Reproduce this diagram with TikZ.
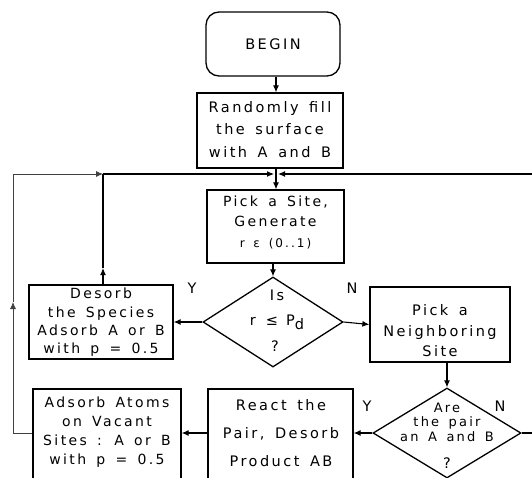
\documentclass[tikz,border=0pt]{standalone}
\usepackage{fontspec}
\setmainfont{DejaVu Sans}[LetterSpace=17,WordSpace=1.5]
\usetikzlibrary{shapes.geometric,arrows.meta}
\begin{document}
\begin{tikzpicture}[x=1pt,y=-1pt,
  box/.style={draw, line width=1.3pt, inner sep=0pt},
  dia/.style={draw, diamond, line width=1.3pt, inner sep=0pt},
  txt/.style={inner sep=0pt, align=center},
  conn/.style={line width=1.1pt},
  thinconn/.style={line width=0.8pt, black!75},
  arr/.style={conn, -{Latex[length=7pt,width=6pt]}},
  thinarr/.style={thinconn, -{Latex[length=7pt,width=6pt]}},
  font=\fontsize{14.5}{17}\selectfont]
\useasboundingbox (0,0) rectangle (532,477);
\clip (0,0) rectangle (532,477);

% boxes
\node[box, rounded corners=13pt, minimum width=134pt, minimum height=64pt] (begin) at (273,44) {BEGIN};
\node[box, minimum width=146pt, minimum height=75pt] (fill) at (270,130.5) {};
\node[box, minimum width=137pt, minimum height=73pt] (pick) at (275.5,226.5) {};
\node[dia, minimum width=140pt, minimum height=90pt] (d1) at (273,322) {};
\node[box, minimum width=144pt, minimum height=74pt] (desorb) at (101,322) {};
\node[box, minimum width=140pt, minimum height=75pt] (neigh) at (440,324.5) {};
\node[dia, minimum width=148pt, minimum height=90pt] (d2) at (447,433) {};
\node[box, minimum width=145pt, minimum height=111pt] (react) at (280.5,444.5) {};
\node[box, minimum width=148pt, minimum height=111pt] (adsorb) at (107,444.5) {};

% texts
\node[txt, font=\fontsize{14.5}{22.5}\selectfont] (filltxt) at (270,129.5) {Randomly fill\\the surface\\with A and B};
\node[txt, font=\fontsize{14}{20.5}\selectfont] (picktxt) at (275.5,222) {Pick a Site,\\Generate\\{\fontsize{12}{20.5}\selectfont r ε (0..1)}};
\node[txt] (d1is) at (277,295) {Is};
\node[txt] (d1r) at (277,322) {r\hspace{10pt}≤\hspace{8pt}P\raisebox{-4pt}{d}};
\node[txt] (d1q) at (275,346) {?};
\node[txt, font=\fontsize{14}{18.3}\selectfont] (desorbtxt) at (101,322.5) {Desorb\\the Species\\Adsorb A or B\\with p = 0.5};
\node[txt, font=\fontsize{14.5}{20.5}\selectfont] (neightxt) at (440,331) {Pick a\\Neighboring\\Site};
\node[txt, font=\fontsize{13}{14.5}\selectfont] (d2txt) at (447,422) {Are\\the pair\\an A and B};
\node[txt] (d2q) at (447,463) {?};
\node[txt, font=\fontsize{14.5}{28}\selectfont] (reacttxt) at (281,433) {React the\\Pair, Desorb\\Product AB};
\node[txt, font=\fontsize{14}{19}\selectfont] (adsorbtxt) at (107,432) {Adsorb Atoms\\on Vacant\\Sites : A or B\\with p = 0.5};

% labels
\node[txt] (y1) at (192,288) {Y};
\node[txt] (n1) at (352,288) {N};
\node[txt] (y2) at (367,406) {Y};
\node[txt] (n2) at (500,406) {N};

% coordinates
\coordinate (jn) at (276,174);
\coordinate (t1) at (103,174);
\coordinate (dm) at (103,268);
\coordinate (l1) at (13,433);
\coordinate (l3) at (13,302);
\coordinate (l2) at (13,174);
\coordinate (rc1) at (545,433);
\coordinate (rc2) at (545,174);

% connectors
\draw[arr] (begin.south -| jn) -- (fill.north -| jn);
\draw[conn] (fill.south -| jn) -- (jn);
\draw[arr] (jn) -- (pick.north -| jn);
\draw[arr] (pick.south -| d1.north) -- (d1.north);
\draw[arr] (d1.west) -- (desorb.east);
\draw[arr] (d1.east) -- (neigh.west);
\draw[arr] (neigh.south -| d2.north) -- (d2.north);
\draw[arr] (d2.west) -- (react.east |- d2.west);
\draw[arr] (react.west |- d2.west) -- (adsorb.east |- d2.west);
\draw[conn] (d2.east) -- (rc1) -- (rc2);
\draw[arr, shorten >=2pt] (rc2) -- (jn);
\draw[arr] (desorb.north -| t1) -- (dm);
\draw[conn] (dm) -- (t1);
\draw[arr, shorten >=2pt] (t1) -- (jn);
\draw[thinarr] (adsorb.west |- d2.west) -- (l1) -- (l3);
\draw[thinarr] (l3) -- (l2) -- (t1);
\end{tikzpicture}
\end{document}
